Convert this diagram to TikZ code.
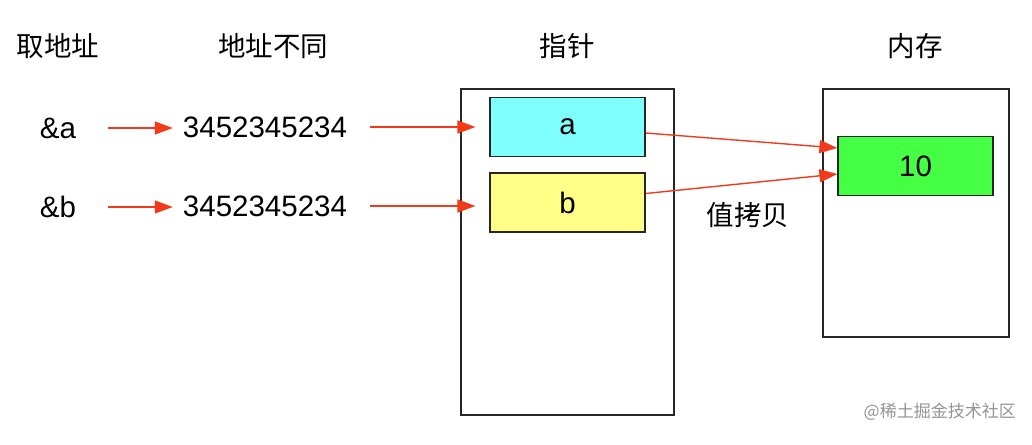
\documentclass[tikz,border=0pt]{standalone}
\usepackage{fontspec}
\setmainfont{Liberation Sans}
\newfontfamily\cjk{Noto Sans CJK SC}
\usetikzlibrary{arrows.meta}
\definecolor{arrred}{HTML}{F23A1B}
\definecolor{cyanfill}{HTML}{80FFFF}
\definecolor{yelfill}{HTML}{FFFF88}
\definecolor{grnfill}{HTML}{44FF44}
\tikzset{
  title/.style={font=\cjk\fontsize{27.5}{32}\selectfont, inner sep=0pt},
  lbl/.style={font=\fontsize{29.5}{34}\selectfont, inner sep=0pt},
  frame/.style={draw=black!85, line width=1.2pt},
  cell/.style={draw=black!85, line width=1.2pt, minimum width=155pt, minimum height=59pt, font=\fontsize{29.5}{34}\selectfont},
  redarrow/.style={draw=arrred, line width=1.4pt, -{Triangle[length=18pt,width=13pt]}},
}
\begin{document}
\begin{tikzpicture}[x=1pt,y=-1pt]
\useasboundingbox (0,0) rectangle (1032,444);
% titles
\node[title] (t1) at (58,46) {取地址};
\node[title] (t2) at (273,46) {地址不同};
\node[title] (t3) at (567,46) {指针};
\node[title] (t4) at (915,46) {内存};
% left labels
\node[lbl] (amp_a) at (58,128) {\&a};
\node[lbl] (amp_b) at (58,207) {\&b};
\node[lbl] (num_a) at (265,127) {3452345234};
\node[lbl] (num_b) at (265,206) {3452345234};
% boxes
\node[frame, minimum width=213pt, minimum height=326pt, inner sep=0pt] (ptrbox) at (567.5,252) {};
\node[cell, fill=cyanfill] (pa) at (567.5,127) {a};
\node[cell, fill=yelfill] (pb) at (567.5,202.5) {b};
\node[frame, minimum width=186pt, minimum height=248pt, inner sep=0pt] (membox) at (916,213) {};
\node[cell, fill=grnfill] (val) at (915.5,166) {10};
\node[title] (copy) at (748,215) {值拷贝};
% arrows
\draw[redarrow] ([xshift=32pt]amp_a.east) -- ([xshift=-10pt]num_a.west |- amp_a.east);
\draw[redarrow] ([xshift=32pt]amp_b.east) -- ([xshift=-10pt]num_b.west |- amp_b.east);
\draw[redarrow] ([xshift=23pt]num_a.east) -- ([xshift=-14pt]pa.west |- num_a.east);
\draw[redarrow] ([xshift=23pt]num_b.east) -- ([xshift=-14pt]pb.west |- num_b.east);
\draw[redarrow] ([yshift=-6pt]pa.east) -- ([yshift=18pt]val.west);
\draw[redarrow] ([yshift=9pt]pb.east) -- ([yshift=-8pt]val.west);
% watermark
\node[font=\cjk\fontsize{17}{19}\selectfont, text=black!42, anchor=east, inner sep=0pt] (wm) at (1016,412) {@稀土掘金技术社区};
\end{tikzpicture}
\end{document}
